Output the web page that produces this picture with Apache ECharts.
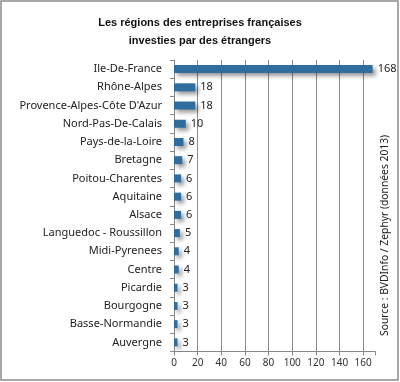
<!DOCTYPE html>
<html><head><meta charset="utf-8">
<script src="https://cdn.jsdelivr.net/npm/echarts@6/dist/echarts.min.js"></script>
<style>html,body{margin:0;padding:0;background:#fff}#c{width:400px;height:382px}</style>
</head><body><div id="c"></div>
<script>
const titleLines = ["Les régions des entreprises françaises", "investies par des étrangers"];
const categories = ["Ile-De-France","Rhône-Alpes","Provence-Alpes-Côte D'Azur","Nord-Pas-De-Calais","Pays-de-la-Loire","Bretagne","Poitou-Charentes","Aquitaine","Alsace","Languedoc - Roussillon","Midi-Pyrenees","Centre","Picardie","Bourgogne","Basse-Normandie","Auvergne"];
const values = [168,18,18,10,8,7,6,6,6,5,4,4,3,3,3,3];
const sourceText = "Source : BVDInfo / Zephyr (données 2013)";
const xTicks = [0,20,40,60,80,100,120,140,160];

const chart = echarts.init(document.getElementById('c'));
const F = "Liberation Sans, Noto Sans, sans-serif";
const F2 = "Noto Sans, sans-serif";
chart.setOption({
  animation:false,
  backgroundColor:'#fff',
  title:{text:titleLines.join('\n'),left:'center',top:9,textStyle:{fontFamily:F,fontSize:11,fontWeight:'bold',color:'#111',lineHeight:18}},
  grid:{left:174,right:25,top:60,bottom:30.5,containLabel:false},
  xAxis:{type:'value',min:0,max:170,interval:20,
    axisLine:{show:true,lineStyle:{color:'#888'}},
    axisTick:{show:true,length:4,lineStyle:{color:'#888'}},
    axisLabel:{fontFamily:F2,fontSize:10,color:'#333',margin:7,formatter:v=>xTicks.indexOf(v)>=0?String(v):''},
    splitLine:{show:true,showMaxLine:false,showMinLine:false,lineStyle:{color:'#8a8a8a',width:1}}},
  yAxis:{type:'category',data:categories,inverse:true,
    axisLine:{show:true,lineStyle:{color:'#888'}},
    axisTick:{show:true,length:4,lineStyle:{color:'#888'}},
    axisLabel:{fontFamily:F2,fontSize:11,color:'#222',margin:12}},
  series:[{type:'bar',data:values,barWidth:8,
    itemStyle:{color:'#2e6d9e',shadowColor:'rgba(0,0,0,0.4)',shadowBlur:4,shadowOffsetX:3,shadowOffsetY:3},
    label:{show:true,position:'right',distance:5,fontFamily:F2,fontSize:11,color:'#222'}}],
  graphic:[
    {type:'rect',shape:{x:1,y:1,width:397,height:379},style:{fill:null,stroke:'#8c8c8c',lineWidth:1.5},silent:true,z:-1},
    {type:'text',x:385,y:336,rotation:Math.PI/2,style:{text:sourceText,fontFamily:F2,fontSize:10.3,fill:'#222',textAlign:'left',textVerticalAlign:'middle'}}
  ]
});
</script></body></html>
